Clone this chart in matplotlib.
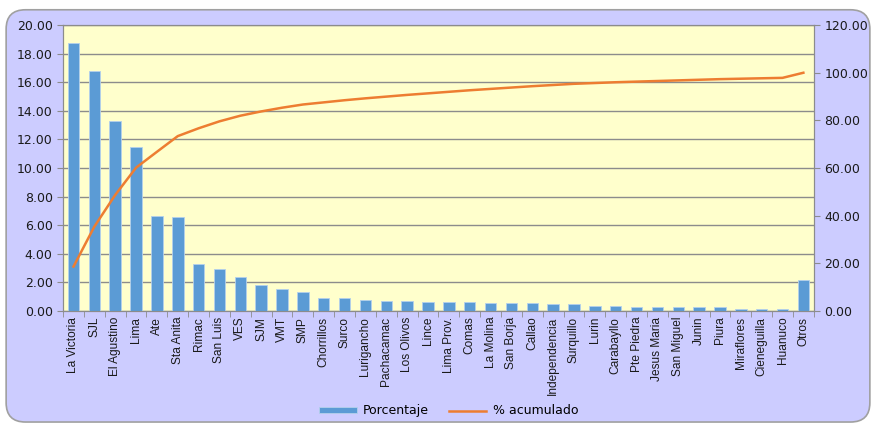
import numpy as np
import matplotlib.pyplot as plt
from matplotlib import font_manager
from matplotlib.patches import FancyBboxPatch
from matplotlib.ticker import FormatStrFormatter, FixedLocator

distritos = ['La Victoria', 'SJL', 'El Agustino', 'Lima', 'Ate', 'Sta Anita', 'Rimac',
             'San Luis', 'VES', 'SJM', 'VMT', 'SMP', 'Chorrillos', 'Surco', 'Lurigancho',
             'Pachacamac', 'Los Olivos', 'Lince', 'Lima Prov.', 'Comas', 'La Molina',
             'San Borja', 'Callao', 'Independencia', 'Surquillo', 'Lurin', 'Carabayllo',
             'Pte Piedra', 'Jesus Maria', 'San Miguel', 'Junin', 'Piura', 'Miraflores',
             'Cieneguilla', 'Huanuco', 'Otros']
porcentaje = [18.72, 16.80, 13.29, 11.47, 6.66, 6.60, 3.29, 2.92, 2.36, 1.80, 1.56, 1.35,
              0.90, 0.90, 0.80, 0.72, 0.72, 0.65, 0.65, 0.65, 0.57, 0.57, 0.57, 0.50,
              0.50, 0.33, 0.33, 0.26, 0.26, 0.26, 0.26, 0.26, 0.18, 0.18, 0.18, 2.15]

acumulado = np.cumsum(porcentaje) / np.sum(porcentaje) * 100

names = {f.name for f in font_manager.fontManager.ttflist}
narrow = 'Liberation Sans Narrow' if 'Liberation Sans Narrow' in names else 'Liberation Sans'
plt.rcParams['font.family'] = ['DejaVu Sans']

fig = plt.figure(figsize=(8.76, 4.25), dpi=100)
fig.patch.set_facecolor('white')
bg = FancyBboxPatch((0.007, 0.007), 0.986, 0.97, boxstyle='round,pad=0,rounding_size=0.022',
                    transform=fig.transFigure, facecolor='#CCCCFF', edgecolor='#A0A0A0',
                    linewidth=1.2, mutation_aspect=876 / 425, zorder=-10)
fig.patches.append(bg)

ax = fig.add_axes([0.072, 0.268, 0.857, 0.673])
ax.set_facecolor('#FFFFCC')
x = np.arange(len(distritos))
bars = ax.bar(x, porcentaje, width=0.55, color='#5B9BD5', edgecolor='#B4D0EC', linewidth=0.6,
              label='Porcentaje', zorder=3)
ax.set_xlim(-0.5, len(distritos) - 0.5)
ax.set_ylim(0, 20)
ax.set_yticks(np.arange(0, 21, 2))
ax.yaxis.set_major_formatter(FormatStrFormatter('%.2f'))
ax.grid(axis='y', color='#8C8C8C', linewidth=1.0, zorder=0)
ax.set_axisbelow(True)
ax.set_xticks(x)
ax.set_xticklabels(distritos, rotation=90, fontsize=8.6, family=narrow, color='#1A1A1A')
ax.tick_params(axis='x', length=0, pad=4)
ax.xaxis.set_minor_locator(FixedLocator(np.arange(-0.5, len(distritos), 1)))
ax.tick_params(axis='x', which='minor', length=4, color='#8C8C8C')
ax.tick_params(axis='y', length=4, color='#8C8C8C', labelsize=9, labelcolor='#1A1A1A')
for s in ax.spines.values():
    s.set_color('#8C8C8C')

ax2 = ax.twinx()
line, = ax2.plot(x, acumulado, color='#ED7D31', linewidth=1.8, label='% acumulado', zorder=4)
ax2.set_ylim(0, 120)
ax2.set_yticks(np.arange(0, 121, 20))
ax2.yaxis.set_major_formatter(FormatStrFormatter('%.2f'))
ax2.tick_params(axis='y', length=4, color='#8C8C8C', labelsize=9, labelcolor='#1A1A1A')
for s in ax2.spines.values():
    s.set_color('#8C8C8C')

fig.legend([bars, line], ['Porcentaje', '% acumulado'], loc='center', ncol=2,
           bbox_to_anchor=(0.512, 0.033), frameon=False, fontsize=9,
           handlelength=3.0, handleheight=0.45, handletextpad=0.5, columnspacing=1.6)

fig.savefig('out.png', dpi=100, facecolor=fig.get_facecolor())
